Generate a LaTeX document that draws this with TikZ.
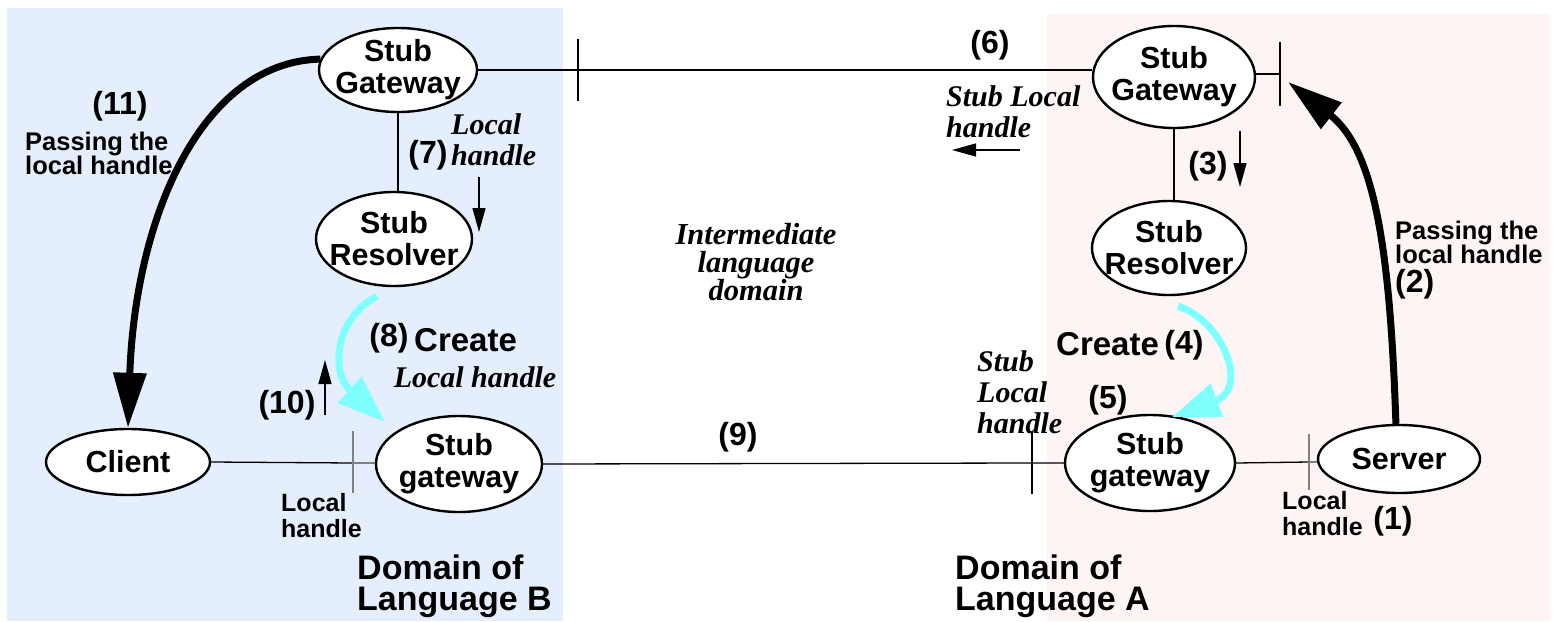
\documentclass[tikz,border=0pt]{standalone}
\usepackage{fontspec}
\setmainfont{Liberation Serif}
\setsansfont{Liberation Sans}
\usetikzlibrary{shapes.geometric, arrows.meta, positioning}

\definecolor{domainB}{HTML}{E4EEFC}
\definecolor{domainA}{HTML}{FDF4F4}
\definecolor{createcyan}{HTML}{80FFFF}

\begin{document}
\begin{tikzpicture}[
    x=1pt, y=-1pt,
    stub/.style={ellipse, draw, line width=2.4pt, fill=white, inner xsep=-12pt, inner ysep=-6pt, align=center,
        font=\sffamily\bfseries\fontsize{30.5}{32}\selectfont},
    num/.style={inner sep=0pt, font=\sffamily\bfseries\fontsize{32}{32}\selectfont},
    note/.style={inner sep=0pt, align=left, font=\sffamily\bfseries\fontsize{25.5}{24}\selectfont},
    createtext/.style={inner sep=0pt, font=\sffamily\bfseries\fontsize{33}{33}\selectfont},
    smallnote/.style={inner sep=0pt, align=left, font=\sffamily\bfseries\fontsize{25}{26}\selectfont},
    slanted/.style={inner sep=0pt, align=left, font=\bfseries\itshape\fontsize{30}{31}\selectfont},
    domaintext/.style={inner sep=0pt, align=left, font=\sffamily\bfseries\fontsize{34}{31}\selectfont},
    link/.style={line width=1.3pt},
    greylink/.style={line width=1.3pt, draw=black!50},
    bar/.style={line width=1.8pt},
    pass/.style={line width=7pt, -{Triangle[length=55pt, width=32pt]}},
    create/.style={line width=7pt, draw=createcyan, -{Triangle[length=48pt, width=34pt]}},
    dir/.style={line width=1.3pt, -{Triangle[length=24pt, width=13pt]}}
]

% Domains
\useasboundingbox (0,0) rectangle (1557,621);
\fill[white] (0,0) rectangle (1557,621);
\fill[domainB] (7,8) rectangle (563,621);
\fill[domainA] (1047,14) rectangle (1550,621);

% Nodes
\node[stub, minimum width=158pt, minimum height=84pt] (gwB) at (398,70) {Stub\\Gateway};
\node[stub, minimum width=156pt, minimum height=94pt] (resB) at (394,239) {Stub\\Resolver};
\node[stub, minimum width=164pt, minimum height=66pt] (client) at (128,462) {Client};
\node[stub, minimum width=166pt, minimum height=96pt] (sgwB) at (459,464) {Stub\\gateway};
\node[stub, minimum width=162pt, minimum height=102pt] (gwA) at (1174,77) {Stub\\Gateway};
\node[stub, minimum width=154pt, minimum height=94pt] (resA) at (1169,248) {Stub\\Resolver};
\node[stub, minimum width=170pt, minimum height=96pt] (sgwA) at (1150,463) {Stub\\gateway};
\node[stub, minimum width=162pt, minimum height=68pt] (server) at (1399,459) {Server};

% Bars on the links
\coordinate (barB) at (578,70);
\coordinate (barA) at (1280,74);
\coordinate (barClient) at (353,463);
\coordinate (barLow) at (1032,463);
\coordinate (barServer) at (1309,462);
\coordinate (passTip) at (1288,82);

% Links
\draw[link] (gwB.east) -- (barB) -- (barB -| gwA.west);
\draw[link] (gwA.east |- barA) -- (barA);
\draw[link] (gwB.south) -- (gwB.south |- resB.north);
\draw[link] (gwA.south) -- (gwA.south |- resA.north);
\draw[link] (client.east) -- (barClient);
\draw[greylink] (barClient) -- (barClient -| sgwB.west);
\draw[link] (sgwB.east) -- (barLow) -- (barLow -| sgwA.west);
\draw[link] (sgwA.east) -- (barServer);
\draw[greylink] (barServer) -- (barServer -| server.west);
\draw[bar] (barB) ++(0,-31) -- ++(0,62);
\draw[bar] (barA) ++(0,-32) -- ++(0,64);
\draw[bar] (barLow) ++(0,-31) -- ++(0,62);
\draw[greylink, line width=1.8pt] (barClient) ++(0,-32) -- ++(0,62);
\draw[greylink, line width=1.8pt] (barServer) ++(0,-28) -- ++(0,56);

% Arrows
\draw[pass] (gwB.172) .. controls (200,62) and (135,220) .. (client.north);
\draw[pass] (server.95) .. controls (1390,250) and (1375,150) .. (passTip);
\draw[create] ([shift={(-17,9)}]resB.south) .. controls (335,318) and (330,372) .. ([shift={(-74,-42)}]sgwB.center);
\draw[create] ([shift={(9,10)}]resA.south) .. controls (1222,320) and (1250,388) .. ([shift={(22,-46)}]sgwA.center);

\coordinate (sevenFrom) at (479,177);
\coordinate (sevenTo) at (479,232);
\coordinate (tenFrom) at (325,415);
\coordinate (tenTo) at (325,360);
\coordinate (threeFrom) at (1240,131);
\coordinate (threeTo) at (1240,187);
\coordinate (sixFrom) at (1020,150);
\coordinate (sixTo) at (952,150);
\draw[dir] (sevenFrom) -- (sevenTo);
\draw[dir] (tenFrom) -- (tenTo);
\draw[dir] (threeFrom) -- (threeTo);
\draw[dir] (sixFrom) -- (sixTo);

% Labels
\node[num] (l11) at (120,106) {(11)};
\node[note, anchor=west] (passB) at (25,153) {Passing the\\local handle};
\node[slanted, anchor=west] (handleB) at (451,140) {Local\\handle};
\node[num] (l7) at (428,155) {(7)};
\node[slanted, align=center, font=\bfseries\itshape\fontsize{30.5}{28}\selectfont] (middle) at (756,262) {Intermediate\\language\\domain};
\node[num] (l6) at (990,45) {(6)};
\node[slanted, anchor=west] (handleSix) at (946,112) {Stub Local\\handle};
\node[num] (l3) at (1208,166) {(3)};
\node[note, anchor=west] (passA) at (1395,242) {Passing the\\local handle};
\node[num, anchor=west] (l2) at (1395,284) {(2)};
\node[num] (l8) at (389,338) {(8)};
\node[createtext, anchor=west] (createB) at (414,340) {Create};
\node[slanted] (handleEight) at (475,377) {Local handle};
\node[num] (l10) at (287,405) {(10)};
\node[smallnote, anchor=west] (localB) at (281,516) {Local\\handle};
\node[domaintext, anchor=west] (domB) at (357,586) {Domain of\\Language B};
\node[num] (l9) at (738,437) {(9)};
\node[slanted, anchor=west] (handleFive) at (977,392) {Stub\\Local\\handle};
\node[createtext, anchor=west] (createA) at (1056,344) {Create};
\node[num] (l4) at (1184,345) {(4)};
\node[num] (l5) at (1108,400) {(5)};
\node[smallnote, anchor=west] (localA) at (1282,514) {Local\\handle};
\node[num] (l1) at (1393,521) {(1)};
\node[domaintext, anchor=west] (domA) at (955,586) {Domain of\\Language A};

\end{tikzpicture}
\end{document}
